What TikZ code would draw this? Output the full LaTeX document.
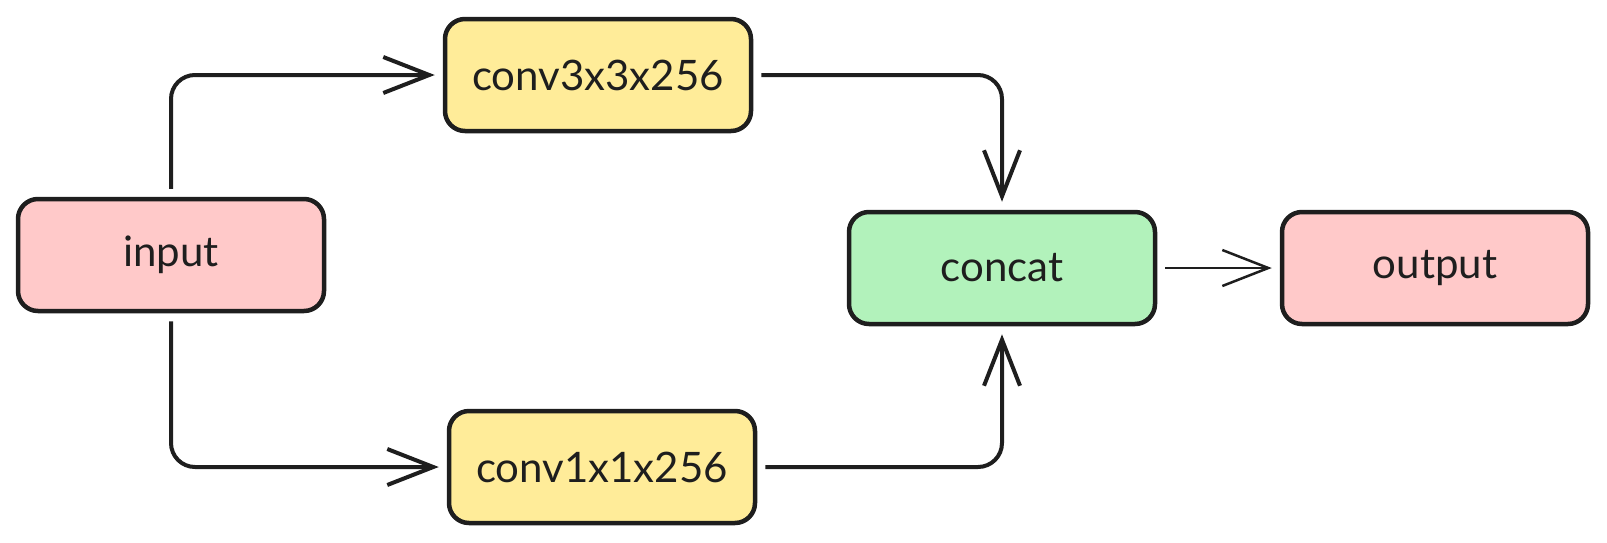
\documentclass[tikz,border=0pt]{standalone}
\usepackage{fontspec}
\setmainfont{Lato}
\usetikzlibrary{arrows.meta}
\definecolor{inkline}{HTML}{1E1E1E}
\definecolor{pinkfill}{HTML}{FFC9C9}
\definecolor{yellowfill}{HTML}{FFEC99}
\definecolor{greenfill}{HTML}{B2F2BB}
\tikzset{
  block/.style={shape=rectangle, rounded corners=20pt, draw=inkline, line width=4.5pt,
    minimum width=306pt, minimum height=112pt, text=inkline, font=\fontsize{42}{48}\selectfont},
  link/.style={draw=inkline, line width=4pt, rounded corners=24pt,
    -{Straight Barb[length=46pt,width=36pt]}, shorten <=8pt, shorten >=8pt},
}
\begin{document}
\begin{tikzpicture}[x=1pt,y=-1pt]
        \useasboundingbox (0,0) rectangle (1607,542);
        \node[block,fill=pinkfill] (input) at (171,255) {input};
        \node[block,fill=yellowfill] (conv3) at (598,75) {conv3x3x256};
        \node[block,fill=yellowfill] (conv1) at (602,467) {conv1x1x256};
        \node[block,fill=greenfill] (concat) at (1002,268) {concat};
        \node[block,fill=pinkfill] (output) at (1435,268) {output};

        \draw[link] (input.north) |- (conv3.west);
        \draw[link] (input.south) |- (conv1.west);
        \draw[link] (conv3.east) -| (concat.north);
        \draw[link] (conv1.east) -| (concat.south);
        \draw[link,line width=2.5pt] (concat) -- (output);
\end{tikzpicture}
\end{document}
